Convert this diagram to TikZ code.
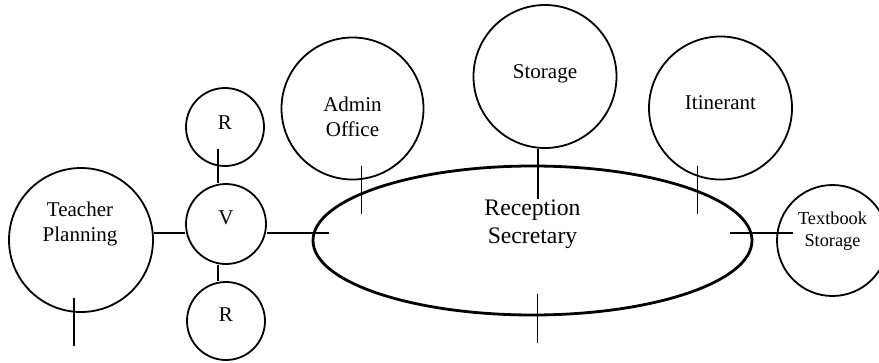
\documentclass[tikz,border=0pt]{standalone}
\usepackage{fontspec}
\setmainfont{Liberation Serif}
\usetikzlibrary{shapes.geometric,positioning,calc}

\begin{document}
\begin{tikzpicture}[x=1pt,y=-1pt,
		room/.style={circle, draw, line width=1.8pt, inner sep=0pt},
		txt/.style={align=center, inner sep=0pt, font=\fontsize{21}{25}\selectfont},
		link/.style={line width=1.8pt}]
		\useasboundingbox (0,0) rectangle (879,362);

		\node [room, minimum size=144pt] (tp) at (81,240){};
		\node [room, minimum size=78pt] (rtop) at (225,127){};
		\node [room, minimum size=80pt] (v) at (226,224){};
		\node [room, minimum size=78pt] (rbot) at (226,321){};
		\node [room, minimum size=142pt] (adm) at (352.5,108.5){};
		\node [room, minimum size=143pt] (sto) at (545,76.5){};
		\node [room, minimum size=143pt] (iti) at (720.5,108){};
		\node [room, minimum size=111pt] (tbs) at (832.5,240.5){};
		\node [ellipse, draw, line width=2.8pt, inner sep=0pt,
			minimum width=439pt,
			minimum height=149pt] (rs) at (532.5,240.5){};

		% names
		\node [txt] (tp-t) at ([xshift=-1pt,yshift=16pt]tp.center) {Teacher\\Planning};
		\node [txt] (rtop-t) at ([yshift=4pt]rtop.center) {R};
		\node [txt] (v-t) at ([yshift=6pt]v.center) {V};
		\node [txt] (rbot-t) at ([yshift=6pt]rbot.center) {R};
		\node [txt] (adm-t) at ([yshift=-8pt]adm.center) {Admin\\Office};
		\node [txt] (sto-t) at ([yshift=3pt]sto.center) {Storage};
		\node [txt] (iti-t) at ([yshift=5pt]iti.center) {Itinerant};
		\node [txt, font=\fontsize{18.3}{22}\selectfont] (tbs-t) at ([yshift=9.5pt]tbs.center) {Textbook\\Storage};
		\node [txt, font=\fontsize{23.7}{28}\selectfont] (rs-t) at ([yshift=16.5pt]rs.center) {Reception\\Secretary};

		% links
		\coordinate (spine) at (0,233);
		\coordinate (stem) at (218,0);
		\draw[link] (tp.east |- spine) -- (v.west |- spine);
		\draw[link] (v.east |- spine) -- ([xshift=17pt]rs.west |- spine);
		\draw[link] ([xshift=-23pt]rs.east |- spine) -- ([xshift=17pt]tbs.west |- spine);
		\draw[link] ([yshift=-22pt]rtop.center -| stem) -- (v.north -| stem);
		\draw[link] (v.south -| stem) -- (rbot.north -| stem);
		\draw[link] ([xshift=9pt,yshift=14.5pt]adm.south) -- ([xshift=9pt,yshift=-33.5pt]adm.south);
		\draw[link] ([xshift=-7pt]sto.south) -- ([xshift=-7pt,yshift=-50pt]sto.south);
		\draw[link] ([xshift=-23pt,yshift=14.5pt]iti.south) -- ([xshift=-23pt,yshift=-33.5pt]iti.south);

		\coordinate (tp-end) at ([xshift=-7pt,yshift=-33pt]tp.south);
		\coordinate (rs-end) at ([xshift=5pt,yshift=-27pt]rs.south);
		\draw[link] ([xshift=-7pt,yshift=15pt]tp.south) -- (tp-end);
		\draw[link] ([xshift=5pt,yshift=22pt]rs.south) -- (rs-end);
	\end{tikzpicture}
\end{document}
